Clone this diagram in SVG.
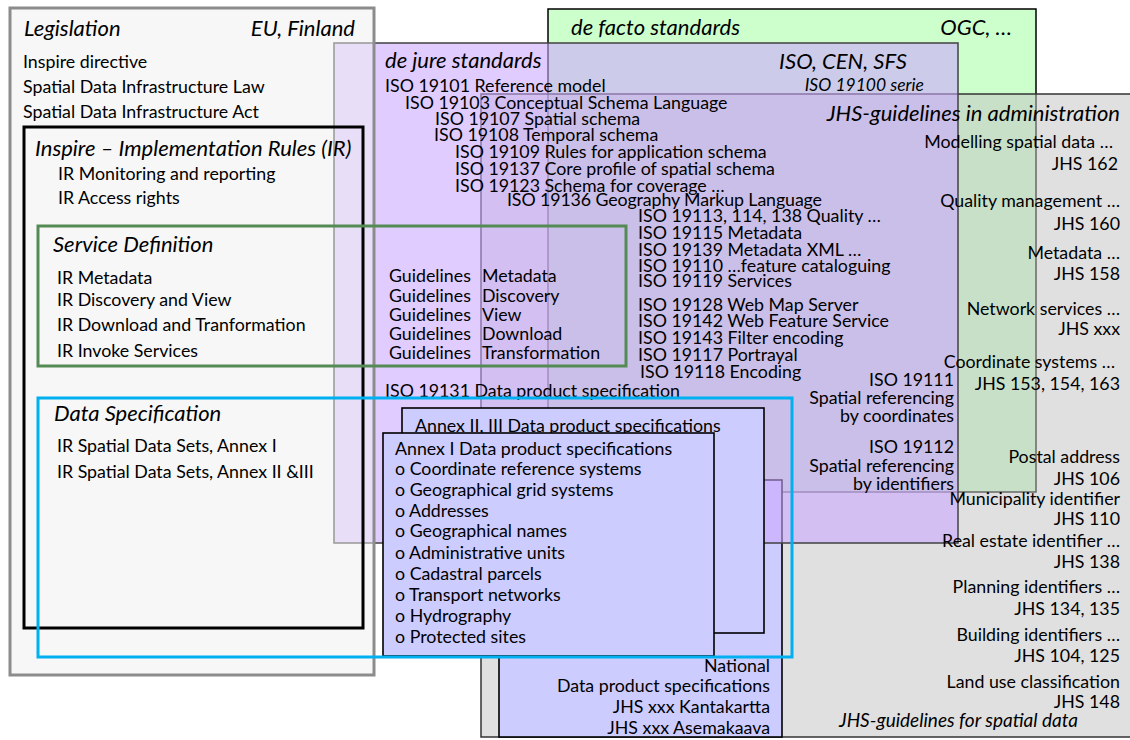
<svg xmlns="http://www.w3.org/2000/svg" width="1130" height="740" viewBox="0 0 1130 740">
<style>
text{font-family:Lato,"Liberation Sans",sans-serif;font-size:17.8px;fill:#000}
.h{font-style:italic;font-size:22px}
.s{font-style:italic;font-size:17.5px}
.i{font-style:italic;font-size:19px}
.e{text-anchor:end}
.box{stroke:#000;stroke-width:1.5}
.blue{fill:#ccccff;stroke:#000;stroke-width:1.6}
</style>
<rect width="1130" height="740" fill="#fff"/>

<g id="de-facto">
<rect class="box" x="548" y="9" width="488" height="483" fill="#ccffcc"/>
<text class="h" x="571" y="35">de facto standards</text>
<text class="h e" x="1012" y="35">OGC, …</text>
</g>

<g id="jhs-administration">
<rect x="481" y="94" width="665" height="643" fill="rgb(196,196,196)" fill-opacity="0.53" stroke="#333" stroke-width="1.5"/>
</g>

<g id="national">
<rect class="blue" x="499" y="480" width="283" height="257"/>
<text class="e" x="770" y="672">National</text>
<text class="e" x="770" y="692">Data product specifications</text>
<text class="e" x="770" y="713">JHS xxx Kantakartta</text>
<text class="e" x="770" y="734">JHS xxx Asemakaava</text>
</g>

<g id="de-jure">
<rect x="334" y="43" width="624" height="500" fill="rgb(203,167,255)" fill-opacity="0.58" stroke="#404040" stroke-width="1.5"/>
<text class="h" x="385" y="68">de jure standards</text>
<text class="h e" x="907" y="69">ISO, CEN, SFS</text>
<text class="s e" x="924" y="91">ISO 19100 serie</text>
<text x="385" y="92">ISO 19101 Reference model</text>
<text x="405" y="109">ISO 19103 Conceptual Schema Language</text>
<text x="435" y="125">ISO 19107 Spatial schema</text>
<text x="434" y="141">ISO 19108 Temporal schema</text>
<text x="455" y="158">ISO 19109 Rules for application schema</text>
<text x="455" y="175">ISO 19137 Core profile of spatial schema</text>
<text x="455" y="192">ISO 19123 Schema for coverage …</text>
<text x="507" y="206" textLength="315" lengthAdjust="spacing">ISO 19136 Geography Markup Language</text>
<text x="638" y="222">ISO 19113, 114, 138 Quality …</text>
<text x="638" y="239">ISO 19115 Metadata</text>
<text x="638" y="256">ISO 19139 Metadata XML …</text>
<text x="638" y="272">ISO 19110 …feature cataloguing</text>
<text x="638" y="287">ISO 19119 Services</text>
<text x="638" y="311">ISO 19128 Web Map Server</text>
<text x="638" y="327">ISO 19142 Web Feature Service</text>
<text x="638" y="344">ISO 19143 Filter encoding</text>
<text x="638" y="361">ISO 19117 Portrayal</text>
<text x="640" y="378">ISO 19118 Encoding</text>
<text x="385" y="397">ISO 19131 Data product specification</text>
<text class="e" x="954" y="386">ISO 19111</text>
<text class="e" x="954" y="404">Spatial referencing</text>
<text class="e" x="954" y="422">by coordinates</text>
<text class="e" x="954" y="453">ISO 19112</text>
<text class="e" x="954" y="472">Spatial referencing</text>
<text class="e" x="954" y="490">by identifiers</text>
</g>

<g id="jhs-administration-labels">
<text class="h e" x="1120" y="121">JHS-guidelines in administration</text>
<text class="e" x="1113" y="148">Modelling spatial data …</text>
<text class="e" x="1118" y="170">JHS 162</text>
<text class="e" x="1120" y="207">Quality management …</text>
<text class="e" x="1120" y="230">JHS 160</text>
<text class="e" x="1120" y="259">Metadata …</text>
<text class="e" x="1120" y="280">JHS 158</text>
<text class="e" x="1120" y="315">Network services …</text>
<text class="e" x="1120" y="335">JHS xxx</text>
<text class="e" x="1115" y="368">Coordinate systems …</text>
<text class="e" x="1120" y="390">JHS 153, 154, 163</text>
<text class="e" x="1120" y="463">Postal address</text>
<text class="e" x="1120" y="485">JHS 106</text>
<text class="e" x="1120" y="505">Municipality identifier</text>
<text class="e" x="1120" y="525">JHS 110</text>
<text class="e" x="1120" y="547">Real estate identifier …</text>
<text class="e" x="1120" y="568">JHS 138</text>
<text class="e" x="1120" y="593">Planning identifiers …</text>
<text class="e" x="1120" y="615">JHS 134, 135</text>
<text class="e" x="1120" y="641">Building identifiers …</text>
<text class="e" x="1120" y="662">JHS 104, 125</text>
<text class="e" x="1120" y="688">Land use classification</text>
<text class="e" x="1120" y="708">JHS 148</text>
<text class="i e" x="1078" y="727">JHS-guidelines for spatial data</text>
</g>

<g id="legislation">
<rect x="10" y="8" width="364" height="667" fill="rgb(239,239,239)" fill-opacity="0.5" stroke="#8c8c8c" stroke-width="3"/>
<text class="h" x="24" y="36">Legislation</text>
<text class="h e" x="355" y="36">EU, Finland</text>
<text x="23" y="68">Inspire directive</text>
<text x="23" y="93">Spatial Data Infrastructure Law</text>
<text x="23" y="118">Spatial Data Infrastructure Act</text>
</g>

<g id="annex-2-3">
<rect class="blue" x="402" y="408" width="362" height="225"/>
<text x="415" y="432">Annex II, III Data product specifications</text>
</g>

<g id="annex-1">
<rect class="blue" x="383" y="433" width="331" height="223"/>
<text x="395" y="455">Annex I Data product specifications</text>
<text x="395" y="475">o Coordinate reference systems</text>
<text x="395" y="496">o Geographical grid systems</text>
<text x="395" y="517">o Addresses</text>
<text x="395" y="537">o Geographical names</text>
<text x="395" y="559">o Administrative units</text>
<text x="395" y="580">o Cadastral parcels</text>
<text x="395" y="601">o Transport networks</text>
<text x="395" y="622">o Hydrography</text>
<text x="395" y="643">o Protected sites</text>
</g>

<g id="inspire-ir">
<rect x="24" y="127" width="339" height="501" fill="none" stroke="#000" stroke-width="3"/>
<text class="h" x="35" y="156">Inspire – Implementation Rules (IR)</text>
<text x="58" y="180">IR Monitoring and reporting</text>
<text x="58" y="204">IR Access rights</text>
</g>

<g id="service-definition">
<rect x="38" y="226" width="588" height="140" fill="none" stroke="#548a54" stroke-width="3"/>
<text class="h" x="53" y="252">Service Definition</text>
<text x="57" y="284">IR Metadata</text>
<text x="57" y="306">IR Discovery and View</text>
<text x="57" y="331">IR Download and Tranformation</text>
<text x="57" y="357">IR Invoke Services</text>
<text x="389" y="282">Guidelines</text><text x="482" y="282">Metadata</text>
<text x="389" y="302">Guidelines</text><text x="482" y="302">Discovery</text>
<text x="389" y="321">Guidelines</text><text x="482" y="321">View</text>
<text x="389" y="340">Guidelines</text><text x="482" y="340">Download</text>
<text x="389" y="359">Guidelines</text><text x="482" y="359">Transformation</text>
</g>

<g id="data-specification">
<rect x="38" y="398" width="754" height="259" fill="none" stroke="#00b0f0" stroke-width="3"/>
<text class="h" x="54" y="421">Data Specification</text>
<text x="57" y="452">IR Spatial Data Sets, Annex I</text>
<text x="57" y="478">IR Spatial Data Sets, Annex II &amp;III</text>
</g>
</svg>
